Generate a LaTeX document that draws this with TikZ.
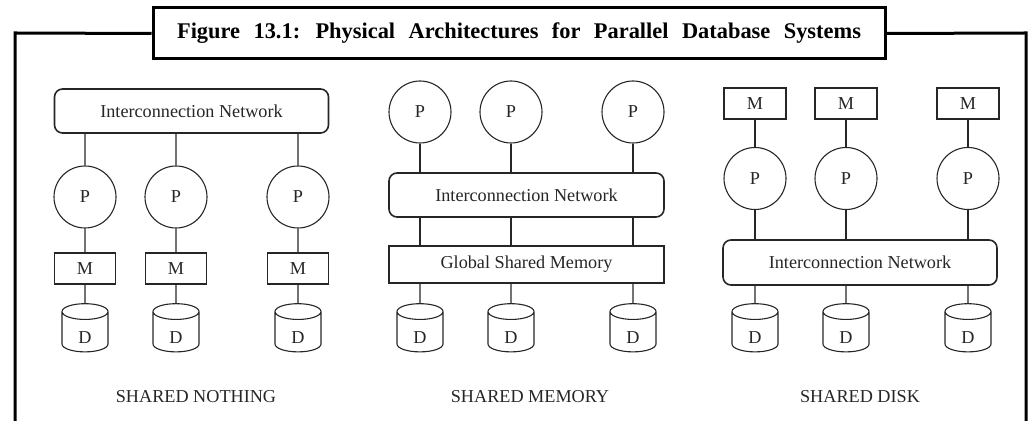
\documentclass[tikz,border=0pt]{standalone}
\usepackage{fontspec}
\setmainfont{Liberation Serif}
\usetikzlibrary{shapes.geometric}

\begin{document}
\begin{tikzpicture}[
 x=0.5pt, y=-0.5pt, color=black!85, line width=0.55pt, font=\fontsize{9.1}{11}\selectfont,
 proc/.style={draw, circle, minimum size=31pt, inner sep=0pt},
 memo/.style={draw, minimum width=30.5pt, minimum height=15.5pt, inner sep=0pt},
 net/.style={draw, rounded corners=4pt, line width=0.8pt, minimum width=137pt, minimum height=22pt, inner sep=0pt},
 gmem/.style={draw, minimum width=137.5pt, minimum height=18.5pt, inner sep=0pt},
 disk/.style={draw, cylinder, shape border rotate=90, aspect=1.2, minimum width=23pt, minimum height=22.5pt,
  inner sep=0pt, text height=12pt, text depth=0pt},
 frame/.style={line width=1.5pt, black}]
\useasboundingbox (0,0) rectangle (1031,421);

% title and outer frame
\node[frame, draw, minimum width=366pt, minimum height=25.5pt, inner sep=0pt,
 font=\fontsize{11.2}{13}\selectfont\bfseries] (title) at (519,33.5)
 {\spaceskip=0.6em\relax Figure 13.1: Physical Architectures for Parallel Database Systems};
\coordinate (fbl) at (15,425); \coordinate (ftl) at (15,33);
\coordinate (ftr) at (1026,33); \coordinate (fbr) at (1026,425);
\draw[frame] (title.west) -- (ftl) -- (fbl);
\draw[frame] (title.east) -- (ftr) -- (fbr);

% shared nothing
\node[net] (netA) at (191.5,111) {Interconnection Network};
\foreach \i/\x in {1/85, 2/176, 3/298} {
 \node[proc] (pA\i) at (\x,197) {P};
 \node[memo] (mA\i) at (\x,268.5) {M};
 \node[disk] (dA\i) at (\x,332) {D};
 \draw (netA.south -| pA\i) -- (pA\i) -- (mA\i) -- (dA\i);
}
\node (capA) at (196,397) {SHARED NOTHING};

% shared memory
\node[net, minimum width=137.5pt] (netB) at (526.5,195) {Interconnection Network};
\node[gmem] (gsm) at (526.5,264.5) {Global Shared Memory};
\foreach \i/\x in {1/420, 2/511, 3/633} {
 \node[proc] (pB\i) at (\x,112) {P};
 \node[disk] (dB\i) at (\x,332) {D};
 \draw (pB\i) -- (netB.north -| pB\i);
 \draw (netB.south -| pB\i) -- (gsm.north -| pB\i);
 \draw (gsm.south -| dB\i) -- (dB\i);
}
\node (capB) at (530,397) {SHARED MEMORY};

% shared disk
\node[net, minimum height=22.5pt] (netC) at (860,262.5) {Interconnection Network};
\foreach \i/\x in {1/755, 2/846, 3/968} {
 \node[memo, minimum width=31pt] (mC\i) at (\x,103.5) {M};
 \node[proc] (pC\i) at (\x,178.5) {P};
 \node[disk] (dC\i) at (\x,332) {D};
 \draw (mC\i) -- (pC\i) -- (netC.north -| pC\i);
 \draw (netC.south -| dC\i) -- (dC\i);
}
\node (capC) at (860,397) {SHARED DISK};
\end{tikzpicture}
\end{document}
